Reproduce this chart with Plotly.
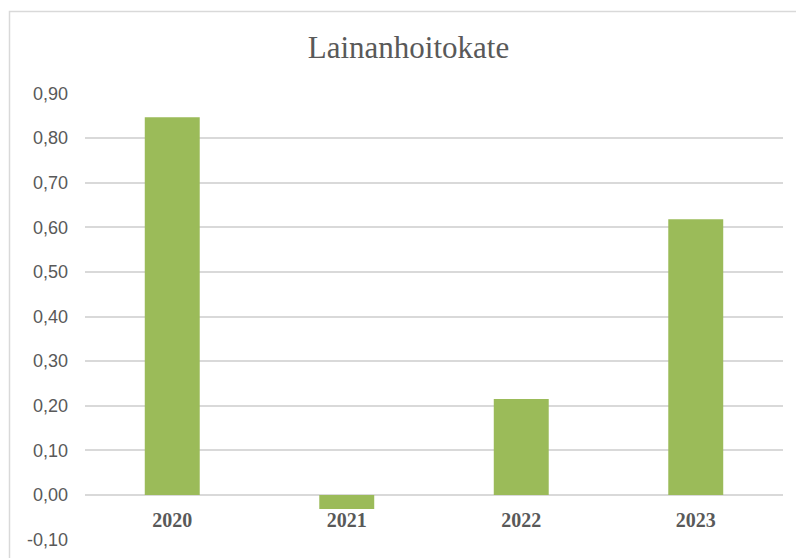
import plotly.graph_objects as go

years = ["2020", "2021", "2022", "2023"]
values = [0.846, -0.031, 0.215, 0.618]
y_tick_vals = [-0.10, 0.00, 0.10, 0.20, 0.30, 0.40, 0.50, 0.60, 0.70, 0.80, 0.90]
y_tick_text = ["-0,10", "0,00", "0,10", "0,20", "0,30", "0,40", "0,50", "0,60", "0,70", "0,80", "0,90"]
title_text = "Lainanhoitokate"

W, H = 796, 558
L, R, T, B = 85, 13, 93, 18
pw, ph = W - L - R, H - T - B

fig = go.Figure(go.Bar(x=years, y=values, marker=dict(color="#9BBB59", line=dict(width=0))))

y_lo, y_hi = -0.1, 0.9
eps = 0.0005
zero_pos = (0 - (y_lo - eps)) / (y_hi - y_lo + 2 * eps)

fig.update_layout(
    width=W, height=H,
    margin=dict(l=L, r=R, t=T, b=B, autoexpand=False),
    paper_bgcolor="white", plot_bgcolor="white",
    bargap=0.685,
    showlegend=False,
    title=dict(text=title_text, x=408.5 / W, xanchor="center", xref="container",
               y=1 - 47 / H, yanchor="middle",
               font=dict(family="Liberation Serif", size=31, color="#595959")),
    xaxis=dict(anchor="free", position=zero_pos, showline=False, showgrid=False,
               ticks="outside", ticklen=7, tickcolor="rgba(0,0,0,0)", automargin=False,
               tickfont=dict(family="Liberation Serif", size=20, color="#595959", weight="bold")),
    yaxis=dict(range=[y_lo - eps, y_hi + eps], tickvals=y_tick_vals, ticktext=y_tick_text, automargin=False,
               showgrid=True, gridcolor="#D9D9D9", gridwidth=1.5,
               zeroline=True, zerolinecolor="#D9D9D9", zerolinewidth=1.5,
               showline=False, ticks="", ticklabelstandoff=16,
               tickfont=dict(family="Liberation Sans", size=18, color="#595959")),
    shapes=[dict(type="rect", xref="paper", yref="paper",
                 x0=(9.5 - L) / pw, x1=(W + 20 - L) / pw,
                 y0=(H - B - (H + 20)) / ph, y1=(H - B - 11.5) / ph,
                 line=dict(color="#D9D9D9", width=1.5), fillcolor="rgba(0,0,0,0)", layer="below")],
)

fig.write_html("out.html", config={"displayModeBar": False},
               post_script="document.body.style.margin='0';document.body.style.overflow='hidden';")
